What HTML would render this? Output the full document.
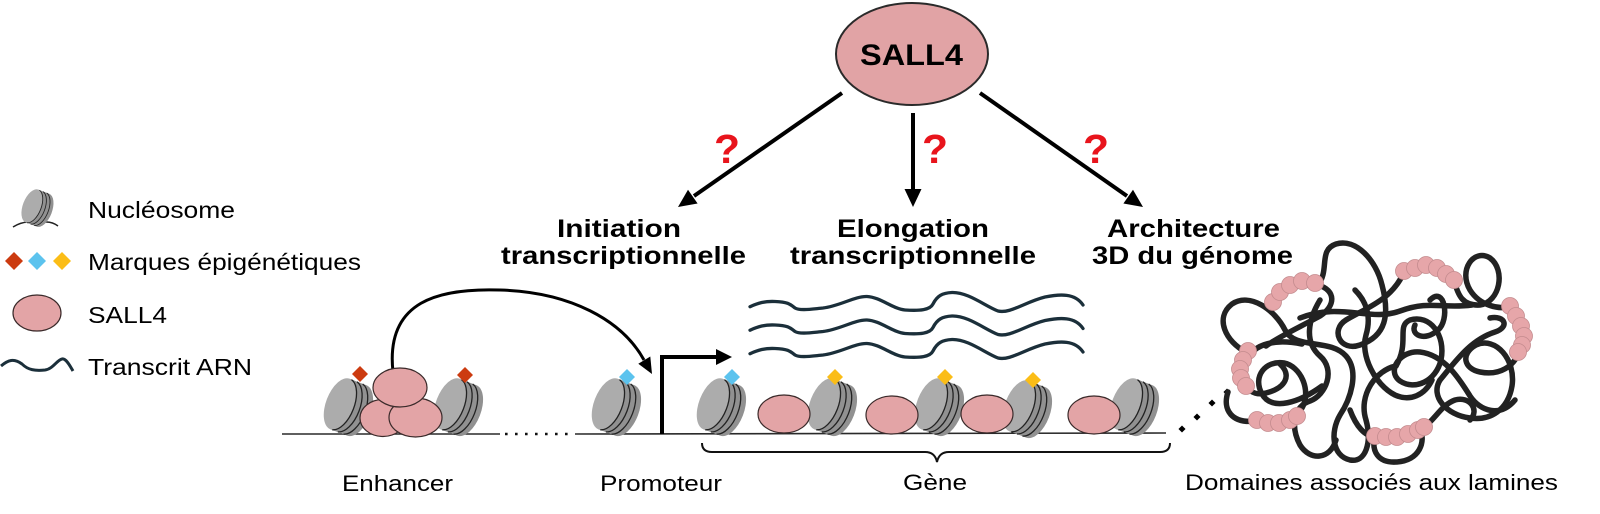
<!DOCTYPE html>
<html>
<head>
<meta charset="utf-8">
<style>
html,body{margin:0;padding:0;background:#fff;}
body{width:1600px;height:514px;overflow:hidden;}
svg{display:block;}
text{font-family:"Liberation Sans",Arial,sans-serif;fill:#000;}
.b{font-weight:bold;}
</style>
</head>
<body>
<svg width="1600" height="514" viewBox="0 0 1600 514" xmlns="http://www.w3.org/2000/svg">
<defs>
  <g id="nuc">
    <g transform="rotate(21)">
      <path d="M0,-27 L18,-27 A14,27 0 0 1 18,27 L0,27 Z" fill="#919191"/>
      <ellipse cx="0" cy="0" rx="14" ry="27" fill="#acacac"/>
      <path d="M2,-26.8 A14,27 0 0 1 2,26.8" stroke="#222" stroke-width="1.3" fill="none"/>
      <path d="M8,-26.8 A14,27 0 0 1 8,26.8" stroke="#222" stroke-width="1.3" fill="none"/>
      <path d="M14,-26.8 A14,27 0 0 1 14,26.8" stroke="#222" stroke-width="1.3" fill="none"/>
    </g>
  </g>
</defs>

<!-- ===== Legend ===== -->
<path d="M13,227 Q24,220 34,223 M40,223 Q50,220 58,226" stroke="#222" stroke-width="1.5" fill="none"/>
<use href="#nuc" transform="translate(32,206) scale(0.65)"/>
<text x="88" y="218" font-size="23" textLength="147" lengthAdjust="spacingAndGlyphs">Nucléosome</text>

<polygon points="14,252 23,261 14,270 5,261" fill="#cc3b10"/>
<polygon points="37,252 46,261 37,270 28,261" fill="#5cc3ee"/>
<polygon points="62,252 71,261 62,270 53,261" fill="#fbbd17"/>
<text x="88" y="270" font-size="23" textLength="273" lengthAdjust="spacingAndGlyphs">Marques épigénétiques</text>

<ellipse cx="37" cy="313" rx="24" ry="18" fill="#e3a4a6" stroke="#3a2a2a" stroke-width="1.2"/>
<text x="88" y="323" font-size="23" textLength="79" lengthAdjust="spacingAndGlyphs">SALL4</text>

<path d="M1,366 C8,360 14,358 22,364 C28,370 35,371 45,370 C53,369 57,360 62,359 C66,358 70,366 73,371" stroke="#1b2f3a" stroke-width="3" fill="none"/>
<text x="88" y="375" font-size="23" textLength="164" lengthAdjust="spacingAndGlyphs">Transcrit ARN</text>

<!-- ===== SALL4 top node ===== -->
<ellipse cx="912" cy="54" rx="76" ry="51" fill="#e1a3a5" stroke="#2a2a2a" stroke-width="2"/>
<text class="b" x="860" y="65" font-size="30" textLength="103" lengthAdjust="spacingAndGlyphs">SALL4</text>

<!-- arrows from SALL4 -->
<g stroke="#000" stroke-width="4" fill="none">
  <line x1="842" y1="93" x2="694" y2="196"/>
  <line x1="913" y1="113" x2="913" y2="191"/>
  <line x1="980" y1="93" x2="1127" y2="196"/>
</g>
<polygon points="678,207 697.6,203.5 688,189.8" fill="#000"/>
<polygon points="913,207 904.5,189 921.5,189" fill="#000"/>
<polygon points="1143,207 1123.4,203.5 1133,189.8" fill="#000"/>

<!-- question marks -->
<text class="b" x="714" y="163" font-size="41" style="fill:#e8141c" textLength="26" lengthAdjust="spacingAndGlyphs">?</text>
<text class="b" x="922" y="163" font-size="41" style="fill:#e8141c" textLength="26" lengthAdjust="spacingAndGlyphs">?</text>
<text class="b" x="1083" y="163" font-size="41" style="fill:#e8141c" textLength="26" lengthAdjust="spacingAndGlyphs">?</text>

<!-- titles -->
<text class="b" x="557" y="237" font-size="25" textLength="124" lengthAdjust="spacingAndGlyphs">Initiation</text>
<text class="b" x="501" y="264" font-size="25" textLength="245" lengthAdjust="spacingAndGlyphs">transcriptionnelle</text>
<text class="b" x="837" y="237" font-size="25" textLength="152" lengthAdjust="spacingAndGlyphs">Elongation</text>
<text class="b" x="790" y="264" font-size="25" textLength="246" lengthAdjust="spacingAndGlyphs">transcriptionnelle</text>
<text class="b" x="1107" y="237" font-size="25" textLength="173" lengthAdjust="spacingAndGlyphs">Architecture</text>
<text class="b" x="1092" y="264" font-size="25" textLength="201" lengthAdjust="spacingAndGlyphs">3D du génome</text>

<!-- ===== DNA baseline ===== -->
<g stroke="#2a2a2a" stroke-width="1.6" fill="none">
  <path d="M282,434 L500,434"/>
  <path d="M575,434 L1166,433"/>
</g>
<line x1="505" y1="434" x2="573" y2="434" stroke="#111" stroke-width="2.6" stroke-dasharray="2.6 7.4"/>

<!-- enhancer arc arrow -->
<path d="M393,372 C385,300 440,288 500,290 C570,292 622,320 644,360" stroke="#000" stroke-width="3" fill="none"/>
<polygon points="652,374 638.3,363.7 650.3,356.5" fill="#000"/>

<!-- promoter bent arrow -->
<path d="M662,434 L662,357 L717,357" stroke="#000" stroke-width="4" fill="none"/>
<polygon points="732,357 716,349 716,365" fill="#000"/>

<!-- ===== Nucleosomes ===== -->
<use href="#nuc" transform="translate(340,404)"/>
<use href="#nuc" transform="translate(450,404)"/>
<use href="#nuc" transform="translate(608,404)"/>
<use href="#nuc" transform="translate(713,404)"/>
<use href="#nuc" transform="translate(824,404)"/>
<use href="#nuc" transform="translate(931,404)"/>
<use href="#nuc" transform="translate(1019,406)"/>
<use href="#nuc" transform="translate(1126,404)"/>

<!-- enhancer SALL4 stack -->
<g fill="#e3a4a6" stroke="#3a2a2a" stroke-width="1.2">
  <ellipse cx="383" cy="418" rx="23" ry="18.5"/>
  <ellipse cx="415.5" cy="417.5" rx="26.5" ry="19.5"/>
  <ellipse cx="400" cy="387.5" rx="27" ry="19.5"/>
</g>

<!-- gene SALL4 -->
<g fill="#e3a4a6" stroke="#3a2a2a" stroke-width="1.2">
  <ellipse cx="784" cy="414" rx="26" ry="19"/>
  <ellipse cx="892" cy="415" rx="26" ry="19"/>
  <ellipse cx="987" cy="414" rx="26" ry="19"/>
  <ellipse cx="1094" cy="415" rx="26" ry="19"/>
</g>

<!-- marks -->
<polygon points="360,366 368,374 360,382 352,374" fill="#cc3b10"/>
<polygon points="465,367 473,375 465,383 457,375" fill="#cc3b10"/>
<polygon points="627,369 635,377 627,385 619,377" fill="#5cc3ee"/>
<polygon points="732,369 740,377 732,385 724,377" fill="#5cc3ee"/>
<polygon points="835,369 843,377 835,385 827,377" fill="#fbbd17"/>
<polygon points="945,369 953,377 945,385 937,377" fill="#fbbd17"/>
<polygon points="1033,372 1041,380 1033,388 1025,380" fill="#fbbd17"/>

<!-- transcripts -->
<g stroke="#1b2f3a" stroke-width="3.3" fill="none" stroke-linecap="round">
  <path id="tr" d="M750,306.7 C758,303 765,301 775,301.5 C788,302 790,304 795,308 C800,311 812,309 823,308 C840,306 855,296 867,296.5 C880,297 893,309 905,310 C920,311 930,310 933,304 C937,296 942,293 952,292.5 C968,292 985,306 998,311 C1010,314 1025,302 1045,297 C1060,294 1075,293 1083,305"/>
  <use href="#tr" transform="translate(0,23.5)"/>
  <use href="#tr" transform="translate(0,47)"/>
</g>

<!-- brace -->
<path d="M702,443 Q702,452 712,452 L925,452 Q935,452 937,462 Q939,452 949,452 L1160,452 Q1170,452 1170,443" stroke="#111" stroke-width="2" fill="none"/>

<!-- dotted connection to chromatin -->
<g fill="#000">
  <rect x="1179.5" y="426.5" width="5" height="5" transform="rotate(45 1182 429)"/>
  <rect x="1194.5" y="414.5" width="5" height="5" transform="rotate(45 1197 417)"/>
  <rect x="1209.5" y="400.5" width="5" height="5" transform="rotate(45 1212 403)"/>
  <rect x="1224.5" y="389.5" width="5" height="5" transform="rotate(45 1227 392)"/>
</g>

<!-- ===== Chromatin tangle ===== -->
<g stroke="#222" stroke-width="5.5" fill="none" stroke-linecap="round" stroke-linejoin="round">
  <path d="M1228,392 C1222,410 1232,424 1256,421 C1275,424 1292,423 1302,408 C1312,390 1300,366 1284,363 C1266,360 1252,376 1262,394 C1272,412 1300,402 1322,386"/>
  <path d="M1246,352 C1226,342 1214,318 1232,304 C1250,292 1275,310 1285,330 C1295,350 1330,338 1346,356 C1360,372 1350,400 1340,415 C1330,432 1332,456 1350,460 C1366,463 1372,442 1366,420 C1358,395 1376,370 1396,366"/>
  <path d="M1302,344 C1272,338 1250,345 1245,365 C1240,385 1250,397 1266,393 C1286,388 1292,375 1280,364"/>
  <path d="M1273,302 C1285,290 1305,280 1318,285 C1336,290 1336,306 1320,316 C1300,327 1280,336 1266,346"/>
  <path d="M1318,285 C1330,270 1318,250 1336,244 C1356,238 1376,260 1382,285 C1390,315 1386,336 1360,345 C1340,352 1330,330 1346,320 C1366,308 1392,300 1404,272"/>
  <path d="M1454,280 C1458,296 1463,306 1480,305 C1500,302 1506,270 1490,258 C1474,248 1458,270 1470,290 C1480,306 1500,310 1510,306"/>
  <path d="M1519,352 C1514,366 1500,376 1480,372 C1464,369 1460,354 1476,345 C1496,336 1516,360 1512,386 C1508,410 1490,421 1470,418 C1446,415 1430,396 1440,380"/>
  <path d="M1300,318 C1340,302 1370,322 1400,311 C1430,300 1442,309 1472,305"/>
  <path d="M1396,366 C1410,342 1396,326 1410,320 C1430,314 1446,335 1441,360 C1436,381 1415,391 1400,381 C1386,371 1400,350 1420,352 C1445,355 1460,380 1470,396 C1480,411 1500,418 1515,400"/>
  <path d="M1350,410 C1356,426 1365,437 1375,436 C1390,438 1410,436 1423,428 C1435,420 1441,405 1455,400 C1470,396 1480,410 1470,420"/>
  <path d="M1375,436 C1371,451 1378,463 1396,462 C1420,461 1426,441 1420,429"/>
  <path d="M1320,300 C1308,320 1304,342 1320,356 C1336,370 1326,395 1310,401 C1294,406 1290,426 1300,445 C1310,461 1330,460 1336,440"/>
  <path d="M1440,380 C1455,362 1470,340 1495,332 C1510,327 1505,315 1490,318"/>
  <path d="M1355,290 C1365,300 1372,315 1366,335 C1360,355 1375,385 1395,395 C1410,402 1425,395 1432,380"/>
  <path d="M1430,300 C1445,285 1450,320 1438,330 C1425,342 1410,335 1415,325"/>
</g>
<g fill="#e6a6a9" stroke="#c48b8e" stroke-width="0.8">
  <circle cx="1273" cy="302" r="8.5"/><circle cx="1280" cy="292" r="8.5"/><circle cx="1290" cy="285" r="8.5"/><circle cx="1302" cy="281" r="8.5"/><circle cx="1315" cy="283" r="8.5"/>
  <circle cx="1404" cy="271" r="8.5"/><circle cx="1415" cy="268" r="8.5"/><circle cx="1426" cy="265" r="8.5"/><circle cx="1437" cy="268" r="8.5"/><circle cx="1446" cy="274" r="8.5"/><circle cx="1454" cy="280" r="8.5"/>
  <circle cx="1510" cy="306" r="8.5"/><circle cx="1516" cy="316" r="8.5"/><circle cx="1521" cy="326" r="8.5"/><circle cx="1524" cy="336" r="8.5"/><circle cx="1522" cy="345" r="8.5"/><circle cx="1518" cy="352" r="8.5"/>
  <circle cx="1248" cy="351" r="8.5"/><circle cx="1243" cy="360" r="8.5"/><circle cx="1240" cy="369" r="8.5"/><circle cx="1241" cy="378" r="8.5"/><circle cx="1246" cy="386" r="8.5"/>
  <circle cx="1257" cy="420" r="8.5"/><circle cx="1268" cy="423" r="8.5"/><circle cx="1279" cy="423" r="8.5"/><circle cx="1290" cy="420" r="8.5"/><circle cx="1297" cy="416" r="8.5"/>
  <circle cx="1375" cy="436" r="8.5"/><circle cx="1386" cy="437" r="8.5"/><circle cx="1397" cy="437" r="8.5"/><circle cx="1408" cy="434" r="8.5"/><circle cx="1418" cy="430" r="8.5"/><circle cx="1424" cy="427" r="8.5"/>
</g>

<!-- bottom labels -->
<text x="342" y="491" font-size="22" textLength="111" lengthAdjust="spacingAndGlyphs">Enhancer</text>
<text x="600" y="491" font-size="22" textLength="122" lengthAdjust="spacingAndGlyphs">Promoteur</text>
<text x="903" y="490" font-size="22" textLength="64" lengthAdjust="spacingAndGlyphs">Gène</text>
<text x="1185" y="490" font-size="22" textLength="373" lengthAdjust="spacingAndGlyphs">Domaines associés aux lamines</text>
</svg>
</body>
</html>
